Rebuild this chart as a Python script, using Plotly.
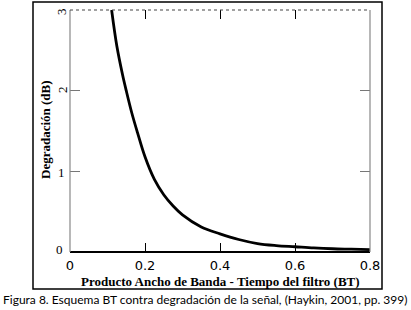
import plotly.graph_objects as go

# Data
bt = [0.111, 0.125, 0.14, 0.15, 0.165, 0.18, 0.2, 0.225, 0.25, 0.275, 0.3,
      0.35, 0.4, 0.45, 0.5, 0.55, 0.6, 0.65, 0.7, 0.75, 0.8]
degradation = [3.0, 2.55, 2.2, 2.0, 1.72, 1.48, 1.18, 0.9, 0.71, 0.57, 0.46,
               0.31, 0.225, 0.155, 0.105, 0.08, 0.065, 0.05, 0.04, 0.035, 0.03]
x_ticks = [0, 0.2, 0.4, 0.6, 0.8]
x_tick_labels = ["0", "0.2", "0.4", "0.6", "0.8"]
y_ticks = [0, 1, 2, 3]
y_tick_labels = ["0", "1", "2", "3"]
x_title = "Producto Ancho de Banda - Tiempo del filtro (BT)"
y_title = "Degradación (dB)"
caption = "Figura 8. Esquema BT contra degradación de la señal, (Haykin, 2001, pp. 399)"

W, H = 411, 310
L, R, T, B = 70, 41, 10, 58
pw, ph = W - L - R, H - T - B


def px(x):
    return (x - L) / pw


def py(y):
    return (H - B - y) / ph


fig = go.Figure()
fig.add_trace(go.Scatter(x=bt, y=degradation, mode="lines",
                         line=dict(color="black", width=2.8, shape="spline"),
                         showlegend=False, hoverinfo="skip"))

serif = "Liberation Serif"
sans = "DejaVu Sans"

fig.update_layout(
    width=W, height=H, margin=dict(l=L, r=R, t=T, b=B),
    paper_bgcolor="white", plot_bgcolor="white",
    xaxis=dict(range=[0, 0.8], tickvals=x_ticks, ticktext=x_tick_labels,
               ticks="inside", ticklen=9, tickcolor="black", tickwidth=1,
               mirror="ticks", showline=False, showgrid=False, zeroline=False,
               ticklabelstandoff=4,
               tickfont=dict(family=sans, size=13, color="black")),
    yaxis=dict(range=[0, 3], tickvals=y_ticks, showticklabels=False,
               ticks="inside", ticklen=10, tickcolor="#777", tickwidth=1,
               mirror="ticks", showline=False, showgrid=False, zeroline=False),
)

shapes = [
    # outer frame
    dict(type="rect", xref="paper", yref="paper", x0=px(33), x1=px(382),
         y0=py(289), y1=py(2), line=dict(color="black", width=1.5)),
    # plot borders
    dict(type="line", xref="paper", yref="paper", x0=0, x1=1, y0=0, y1=0,
         line=dict(color="black", width=2)),
    dict(type="line", xref="paper", yref="paper", x0=0, x1=0, y0=0, y1=1,
         line=dict(color="#888", width=1.2)),
    dict(type="line", xref="paper", yref="paper", x0=1, x1=1, y0=0, y1=1,
         line=dict(color="#888", width=1.2)),
    dict(type="line", xref="paper", yref="paper", x0=0, x1=1, y0=1, y1=1,
         line=dict(color="#444", width=1.2, dash="dot")),
]
fig.update_layout(shapes=shapes)

ann = []
# y tick labels (3 and 2 are rotated in the reference)
ylab_pos = {"3": (62, 12, -90), "2": (62, 90, -90), "1": (61, 172, 0), "0": (59, 249, 0)}
for v, lab in zip(y_ticks, y_tick_labels):
    x0, y0, ang = ylab_pos[lab]
    ann.append(dict(x=px(x0), y=py(y0), xref="paper", yref="paper", text=lab,
                    showarrow=False, textangle=ang, xanchor="center", yanchor="middle",
                    font=dict(family=serif, size=13, color="black")))
ann.append(dict(x=px(220), y=py(281), xref="paper", yref="paper",
                text="<b>" + x_title + "</b>", showarrow=False,
                xanchor="center", yanchor="middle",
                font=dict(family=serif, size=13, color="black")))
ann.append(dict(x=px(45), y=py(130), xref="paper", yref="paper",
                text="<b>" + y_title + "</b>", showarrow=False, textangle=-90,
                xanchor="center", yanchor="middle",
                font=dict(family=serif, size=13, color="black")))
ann.append(dict(x=px(205), y=py(299), xref="paper", yref="paper",
                text=caption, showarrow=False, xanchor="center", yanchor="middle",
                font=dict(family="Lato", size=12, color="black")))
fig.update_layout(annotations=ann)

fig.write_html("out.html", config={"displayModeBar": False},
               post_script="document.body.style.margin='0px';")
